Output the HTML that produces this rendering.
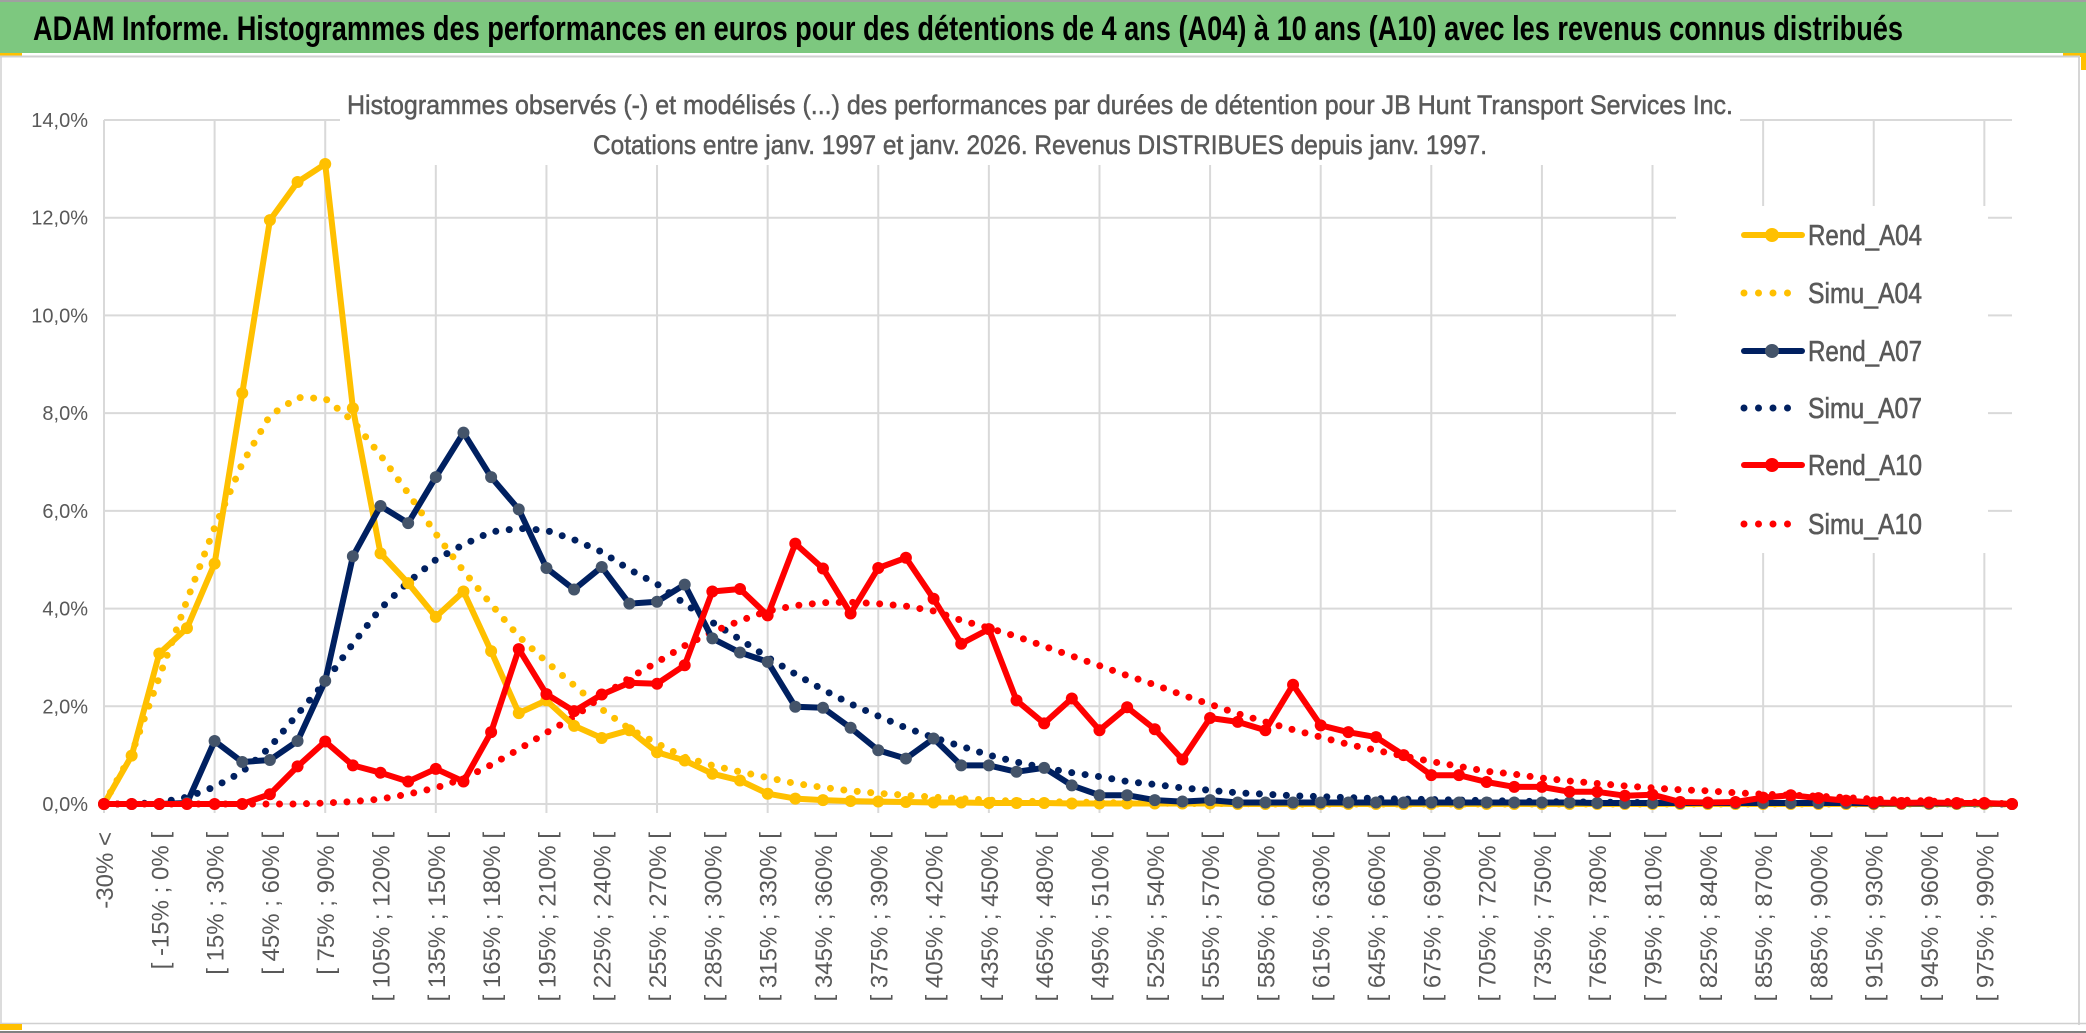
<!DOCTYPE html>
<html><head><meta charset="utf-8"><style>
html,body{margin:0;padding:0;background:#fff;}
svg{display:block;font-family:"Liberation Sans",sans-serif;}
</style></head><body>
<svg id="chart" width="2086" height="1033" viewBox="0 0 2086 1033" xmlns="http://www.w3.org/2000/svg">
  <rect x="0" y="0" width="2086" height="1033" fill="#fff"/>
  <rect x="0" y="2" width="2086" height="51" fill="#7dc87f"/>
  <line x1="0" y1="1" x2="2086" y2="1" stroke="#a0a0a0" stroke-width="2"/>
  <rect x="0" y="53" width="22" height="4" fill="#ffc000"/>
  <rect x="2063" y="53" width="23" height="4" fill="#ffc000"/>
  <rect x="2081" y="53" width="5" height="17" fill="#ffc000"/>
  <line x1="0" y1="56.5" x2="2080" y2="56.5" stroke="#d0d0d0" stroke-width="2"/>
  <line x1="2079" y1="57" x2="2079" y2="1025" stroke="#c8c8c8" stroke-width="1.5"/>
  <line x1="1" y1="57" x2="1" y2="1025" stroke="#d0d0d0" stroke-width="1.5"/>
  <line x1="0" y1="1023.5" x2="2086" y2="1023.5" stroke="#d0d0d0" stroke-width="1.5"/>
  <line x1="0" y1="1032" x2="2086" y2="1032" stroke="#808080" stroke-width="2"/>
  <rect x="0" y="1024" width="22" height="6" fill="#ffc000"/>
  <text x="33" y="40" font-size="34" font-weight="bold" fill="#000" textLength="1870" lengthAdjust="spacingAndGlyphs">ADAM Informe. Histogrammes des performances en euros pour des détentions de 4 ans (A04) à 10 ans (A10) avec les revenus connus distribués</text>
  <g id="grid"></g>
  <rect x="340" y="85" width="1400" height="80" fill="#fff"/>
  <text x="1040" y="114" font-size="27" fill="#595959" stroke="#595959" stroke-width="0.5" text-anchor="middle" textLength="1386" lengthAdjust="spacingAndGlyphs">Histogrammes observés (-) et modélisés (...) des performances par durées de détention pour JB Hunt Transport Services Inc.</text>
  <text x="1040" y="154" font-size="27" fill="#595959" stroke="#595959" stroke-width="0.5" text-anchor="middle" textLength="894" lengthAdjust="spacingAndGlyphs">Cotations entre janv. 1997 et janv. 2026. Revenus DISTRIBUES depuis janv. 1997.</text>
  <g id="yaxis"></g>
  <g id="xaxis"></g>
  <rect x="1676" y="206" width="312" height="347" fill="#fff"/>
  <g id="series"></g>
  <g id="legend"></g>
</svg>
<script>
const categories = (function(){ const c=["-30% <","[ -30% ; -15% ["]; for(let a=-15;a<=990;a+=15){c.push("[ "+a+"% ; "+(a+15)+"% [");} return c; })();
const yTicks = [0,2,4,6,8,10,12,14];
const yTickLabels = ["0,0%","2,0%","4,0%","6,0%","8,0%","10,0%","12,0%","14,0%"];
const rendA04 = [0,0.99,3.08,3.6,4.92,8.41,11.95,12.73,13.1,8.1,5.13,4.52,3.83,4.35,3.13,1.86,2.12,1.6,1.35,1.51,1.06,0.89,0.62,0.48,0.21,0.11,0.08,0.06,0.05,0.04,0.03,0.03,0.02,0.02,0.02,0.01,0.01,0.01,0.01,0.01,0.01,0,0,0,0,0,0,0,0,0,0,0,0,0,0,0,0,0,0,0,0,0,0,0,0,0,0,0,0,0];
const simuA04 = [0,1.03,2.6,4.17,5.66,6.97,7.95,8.32,8.3,7.84,7.14,6.36,5.53,4.77,4.09,3.43,2.91,2.43,1.94,1.54,1.24,0.96,0.79,0.66,0.54,0.42,0.34,0.27,0.22,0.18,0.14,0.11,0.08,0.06,0.05,0.04,0.03,0.02,0.02,0.01,0.01,0.01,0,0,0,0,0,0,0,0,0,0,0,0,0,0,0,0,0,0,0,0,0,0,0,0,0,0,0,0];
const rendA07 = [0,0,0,0.02,1.29,0.86,0.9,1.29,2.52,5.07,6.1,5.75,6.69,7.6,6.69,6.03,4.83,4.39,4.85,4.1,4.14,4.49,3.39,3.1,2.91,1.99,1.97,1.56,1.1,0.93,1.34,0.79,0.79,0.66,0.74,0.38,0.18,0.18,0.08,0.05,0.08,0.03,0.03,0.03,0.03,0.03,0.03,0.03,0.03,0.03,0.03,0.03,0.03,0.03,0.02,0.02,0.02,0.02,0.02,0.02,0.02,0.02,0.02,0.02,0.01,0.01,0.01,0.01,0.01,0];
const simuA07 = [0,0,0.03,0.14,0.35,0.66,1.16,1.84,2.5,3.28,4.0,4.54,5.0,5.31,5.57,5.64,5.6,5.41,5.16,4.8,4.5,4.1,3.72,3.37,3.0,2.66,2.34,2.05,1.8,1.56,1.36,1.18,1.0,0.86,0.74,0.64,0.56,0.46,0.4,0.33,0.28,0.23,0.2,0.17,0.15,0.13,0.11,0.1,0.09,0.08,0.07,0.06,0.05,0.04,0.04,0.03,0.03,0.02,0.02,0.02,0.02,0.01,0.01,0.01,0.01,0.01,0.01,0,0,0];
const rendA10 = [0,0,0,0,0,0,0.2,0.77,1.28,0.79,0.64,0.46,0.72,0.46,1.47,3.17,2.25,1.9,2.24,2.48,2.46,2.84,4.35,4.4,3.86,5.33,4.82,3.9,4.83,5.04,4.2,3.28,3.58,2.12,1.65,2.16,1.51,1.98,1.53,0.91,1.76,1.68,1.51,2.44,1.61,1.47,1.37,1.0,0.59,0.59,0.45,0.35,0.35,0.25,0.25,0.17,0.19,0.04,0.03,0.04,0.13,0.18,0.12,0.07,0.03,0.02,0.03,0.02,0.02,0];
const simuA10 = [0,0,0,0,0,0,0,0,0.02,0.05,0.1,0.2,0.33,0.52,0.8,1.12,1.46,1.78,2.2,2.58,2.9,3.24,3.52,3.75,3.95,4.06,4.12,4.13,4.1,4.05,3.95,3.76,3.6,3.43,3.23,3.03,2.83,2.63,2.44,2.23,2.04,1.85,1.68,1.52,1.37,1.22,1.1,0.98,0.87,0.77,0.67,0.61,0.53,0.47,0.42,0.37,0.33,0.29,0.27,0.23,0.2,0.18,0.16,0.13,0.1,0.08,0.06,0.05,0.03,0];

const NS="http://www.w3.org/2000/svg";
const X0=104, X1=2012, Y0=804, Y14=120, YMAX=14;
function xPos(i){ return X0+(X1-X0)*i/(categories.length-1); }
function yPos(v){ return Y0-(Y0-Y14)*v/YMAX; }
function mk(tag,attrs,parent){ const e=document.createElementNS(NS,tag); for(const k in attrs) e.setAttribute(k,attrs[k]); parent.appendChild(e); return e; }

const grid=document.getElementById('grid');
yTicks.forEach(function(t){
  const l=mk('line',{x1:X0,x2:X1,y1:yPos(t),y2:yPos(t),stroke:'#d9d9d9','stroke-width':2},grid);
  
  
});
for(let i=0;i<categories.length;i+=4){
  const l=mk('line',{x1:xPos(i),x2:xPos(i),y1:Y14,y2:Y0+9,stroke:'#d9d9d9','stroke-width':2},grid);
  
  
}
const yax=document.getElementById('yaxis');
yTicks.forEach(function(t,k){
  const tx=mk('text',{x:88,y:yPos(t)+7,'font-size':20,fill:'#595959','text-anchor':'end'},yax);
  tx.textContent=yTickLabels[k];
  
  
});
const xax=document.getElementById('xaxis');
for(let i=0;i<categories.length;i+=2){
  const x=xPos(i)+9, y=832;
  const tx=mk('text',{x:x,y:y,'font-size':24,fill:'#595959','text-anchor':'end',transform:'rotate(-90 '+x+' '+y+')'},xax);
  tx.textContent = i===0 ? "-30% <" : categories[i];
  
  
}

const seriesDefs=[
  {name:'Simu_A04',data:simuA04,color:'#ffc000',dotted:true},
  {name:'Simu_A07',data:simuA07,color:'#002060',dotted:true},
  {name:'Simu_A10',data:simuA10,color:'#ff0000',dotted:true},
  {name:'Rend_A04',data:rendA04,color:'#ffc000',dotted:false,marker:'#ffc000'},
  {name:'Rend_A07',data:rendA07,color:'#002060',dotted:false,marker:'#44546a'},
  {name:'Rend_A10',data:rendA10,color:'#ff0000',dotted:false,marker:'#ff0000'}
];
const sg=document.getElementById('series');
seriesDefs.forEach(function(s){
  const g=mk('g',{},sg);
  
  
  const pts=s.data.map(function(v,i){return xPos(i).toFixed(1)+','+yPos(v).toFixed(1);}).join(' ');
  const pl=mk('polyline',{points:pts,fill:'none',stroke:s.color,'stroke-width':s.dotted?7:6,'stroke-linejoin':'round','stroke-linecap':'round'},g);
  if(s.dotted) pl.setAttribute('stroke-dasharray','0 13.5');
  
  
  if(!s.dotted){
    s.data.forEach(function(v,i){
      const c=mk('circle',{cx:xPos(i),cy:yPos(v),r:6,fill:s.marker},g);
      
      
    });
  }
});
const legendRows=[
  {name:'Rend_A04',color:'#ffc000',dotted:false,marker:'#ffc000',y:235},
  {name:'Simu_A04',color:'#ffc000',dotted:true,y:293},
  {name:'Rend_A07',color:'#002060',dotted:false,marker:'#44546a',y:351},
  {name:'Simu_A07',color:'#002060',dotted:true,y:408},
  {name:'Rend_A10',color:'#ff0000',dotted:false,marker:'#ff0000',y:465},
  {name:'Simu_A10',color:'#ff0000',dotted:true,y:524}
];
const lg=document.getElementById('legend');
legendRows.forEach(function(r){
  const g=mk('g',{},lg);
  
  
  if(r.dotted){
    mk('line',{x1:1744,x2:1800,y1:r.y,y2:r.y,stroke:r.color,'stroke-width':7,'stroke-linecap':'round','stroke-dasharray':'0 14.5'},g);
  } else {
    mk('line',{x1:1744,x2:1802,y1:r.y,y2:r.y,stroke:r.color,'stroke-width':6,'stroke-linecap':'round'},g);
    mk('circle',{cx:1772,cy:r.y,r:7,fill:r.marker},g);
  }
  const t=mk('text',{x:1808,y:r.y+10,'font-size':29,fill:'#595959',stroke:'#595959','stroke-width':0.6,textLength:114,lengthAdjust:'spacingAndGlyphs'},g);
  t.textContent=r.name;
});
</script>
</body></html>
